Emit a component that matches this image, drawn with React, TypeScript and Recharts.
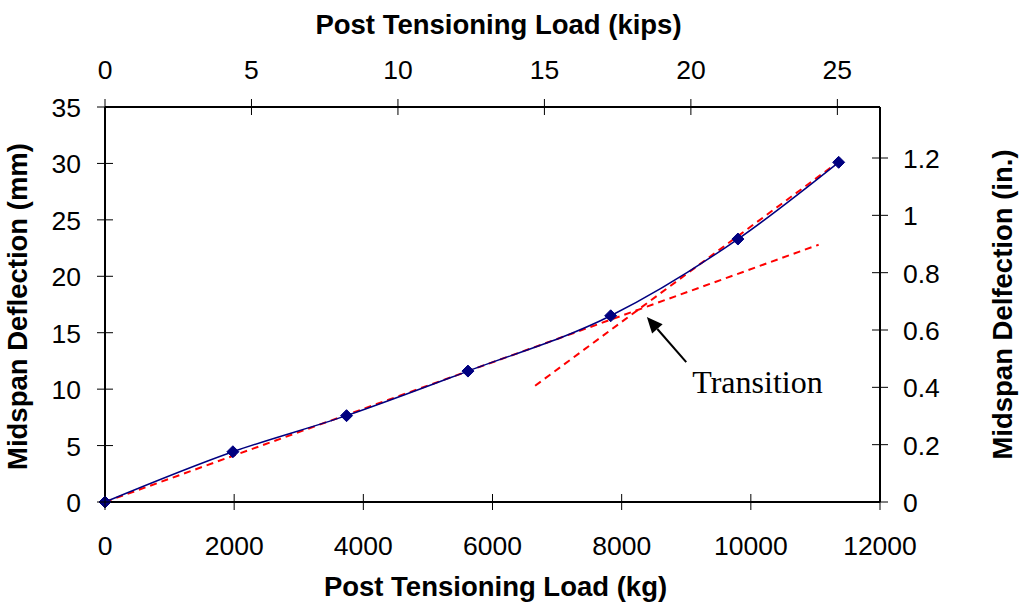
import { ComposedChart, Line, XAxis, YAxis, ReferenceLine } from 'recharts';

// measured midspan deflection vs post-tensioning load
const loadKg = [0, 1980, 3740, 5620, 7830, 9800, 11360];
const deflectionMm = [0, 4.45, 7.65, 11.6, 16.5, 23.3, 30.1];

// the two dashed trend lines
const trendLowKg = [0, 11050];
const trendLowMm = [0, 22.8];
const trendHighKg = [6660, 11300];
const trendHighMm = [10.3, 29.9];

// annotation arrow (tail -> head)
const arrowKg = [9000, 8390];
const arrowMm = [12.4, 16.4];

const kgTicks = [0, 2000, 4000, 6000, 8000, 10000, 12000];
const kipsTicks = [0, 5, 10, 15, 20, 25];
const mmTicks = [0, 5, 10, 15, 20, 25, 30, 35];
const inTicks = [0, 0.2, 0.4, 0.6, 0.8, 1, 1.2];

const KG_PER_KIP = 453.592;
const MM_PER_IN = 25.4;

const SANS = "'Liberation Sans', Arial, sans-serif";
const SERIF = "'Liberation Serif', 'Times New Roman', serif";
const TICK_FONT = 26.5;
const TITLE_FONT = 27.5;

const measured = loadKg.map((x, i) => ({ x, y: deflectionMm[i] }));
const trendLow = trendLowKg.map((x, i) => ({ x, y: trendLowMm[i] }));
const trendHigh = trendHighKg.map((x, i) => ({ x, y: trendHighMm[i] }));
// same points in imperial units, drawn invisibly so the top/right axes are bound to a series
const measuredImperial = loadKg.map((x, i) => ({ x: x / KG_PER_KIP, y: deflectionMm[i] / MM_PER_IN }));

const fmt = (v: number) => String(Number(v.toFixed(1)));

function makeTick(side: 'bottom' | 'top' | 'left' | 'right') {
  return (props: any) => {
    const { x, y, payload } = props;
    const label = fmt(payload.value);
    const t = { fontFamily: SANS, fontSize: TICK_FONT, fill: '#000' };
    if (side === 'bottom') {
      return (
        <g>
          <line x1={x} x2={x} y1={y - 8} y2={y + 8} stroke="#000" strokeWidth={1} />
          <text x={x} y={y + 53} textAnchor="middle" {...t}>{label}</text>
        </g>
      );
    }
    if (side === 'top') {
      return (
        <g>
          <line x1={x} x2={x} y1={y - 8} y2={y + 8} stroke="#000" strokeWidth={1} />
          <text x={x} y={y - 28} textAnchor="middle" {...t}>{label}</text>
        </g>
      );
    }
    if (side === 'left') {
      return (
        <g>
          <line x1={x - 8} x2={x + 8} y1={y} y2={y} stroke="#000" strokeWidth={1} />
          <text x={x - 24} y={y + 10} textAnchor="end" {...t}>{label}</text>
        </g>
      );
    }
    return (
      <g>
        <line x1={x - 8} x2={x + 8} y1={y} y2={y} stroke="#000" strokeWidth={1} />
        <text x={x + 23} y={y + 10} textAnchor="start" {...t}>{label}</text>
      </g>
    );
  };
}

const Diamond = (props: any) => {
  const { cx, cy, index } = props;
  if (cx == null || cy == null) return <g key={index} />;
  const r = 6;
  return (
    <path
      key={index}
      d={`M${cx},${cy - r}L${cx + r},${cy}L${cx},${cy + r}L${cx - r},${cy}Z`}
      fill="#000080"
      stroke="#000080"
    />
  );
};

const ArrowShape = (props: any) => {
  const { x1, y1, x2, y2 } = props;
  const dx = x2 - x1;
  const dy = y2 - y1;
  const len = Math.sqrt(dx * dx + dy * dy) || 1;
  const ux = dx / len;
  const uy = dy / len;
  const hl = 16;
  const hw = 7;
  const bx = x2 - ux * hl;
  const by = y2 - uy * hl;
  return (
    <g>
      <line x1={x1} y1={y1} x2={bx} y2={by} stroke="#000" strokeWidth={2} />
      <path
        d={`M${x2},${y2}L${bx - uy * hw},${by + ux * hw}L${bx + uy * hw},${by - ux * hw}Z`}
        fill="#000"
      />
      <text x={x1 + 6} y={y1 + 31} fontFamily={SERIF} fontSize={32} fill="#000">
        Transition
      </text>
    </g>
  );
};

const axisLine = { stroke: '#000', strokeWidth: 2 };

export default function App() {
  return (
    <div style={{ position: 'absolute', left: 0, top: 0, background: '#fff' }}>
      <ComposedChart width={1024} height={607} margin={{ top: 0, right: 0, bottom: 0, left: 0 }}>
        <XAxis
          xAxisId="kg"
          type="number"
          dataKey="x"
          orientation="bottom"
          domain={[0, 12000]}
          ticks={kgTicks}
          height={105}
          axisLine={axisLine}
          tickLine={false}
          tickSize={0}
          tickMargin={0}
          tick={makeTick('bottom')}
          label={{
            content: ({ viewBox }: any) => (
              <text
                x={viewBox.x + viewBox.width / 2 + 3}
                y={596}
                textAnchor="middle"
                fontFamily={SANS}
                fontWeight="bold"
                fontSize={TITLE_FONT}
              >
                Post Tensioning Load (kg)
              </text>
            ),
          }}
        />
        <XAxis
          xAxisId="kips"
          type="number"
          dataKey="x"
          orientation="top"
          domain={[0, 12000 / KG_PER_KIP]}
          ticks={kipsTicks}
          height={107}
          axisLine={axisLine}
          tickLine={false}
          tickSize={0}
          tickMargin={0}
          tick={makeTick('top')}
          allowDataOverflow
          label={{
            content: ({ viewBox }: any) => (
              <text
                x={viewBox.x + viewBox.width / 2 + 6}
                y={34}
                textAnchor="middle"
                fontFamily={SANS}
                fontWeight="bold"
                fontSize={TITLE_FONT}
              >
                Post Tensioning Load (kips)
              </text>
            ),
          }}
        />
        <YAxis
          yAxisId="mm"
          type="number"
          orientation="left"
          domain={[0, 35]}
          ticks={mmTicks}
          width={105}
          axisLine={axisLine}
          tickLine={false}
          tickSize={0}
          tickMargin={0}
          tick={makeTick('left')}
          label={{
            content: ({ viewBox }: any) => {
              const cy = viewBox.y + viewBox.height / 2 + 2;
              return (
                <text
                  x={27}
                  y={cy}
                  textAnchor="middle"
                  transform={`rotate(-90, 27, ${cy})`}
                  fontFamily={SANS}
                  fontWeight="bold"
                  fontSize={TITLE_FONT}
                >
                  Midspan Deflection (mm)
                </text>
              );
            },
          }}
        />
        <YAxis
          yAxisId="in"
          type="number"
          orientation="right"
          domain={[0, 35 / MM_PER_IN]}
          ticks={inTicks}
          width={144}
          axisLine={axisLine}
          tickLine={false}
          tickSize={0}
          tickMargin={0}
          tick={makeTick('right')}
          allowDataOverflow
          label={{
            content: ({ viewBox }: any) => {
              const cy = viewBox.y + viewBox.height / 2;
              return (
                <text
                  x={1012}
                  y={cy}
                  textAnchor="middle"
                  transform={`rotate(-90, 1012, ${cy})`}
                  fontFamily={SANS}
                  fontWeight="bold"
                  fontSize={TITLE_FONT}
                >
                  Midspan Delfection (in.)
                </text>
              );
            },
          }}
        />
        <Line
          xAxisId="kips"
          yAxisId="in"
          data={measuredImperial}
          dataKey="y"
          type="linear"
          stroke="none"
          dot={false}
          activeDot={false}
          isAnimationActive={false}
        />
        <Line
          xAxisId="kg"
          yAxisId="mm"
          data={trendLow}
          dataKey="y"
          type="linear"
          stroke="#ff0000"
          strokeWidth={2}
          strokeDasharray="7 5"
          dot={false}
          isAnimationActive={false}
        />
        <Line
          xAxisId="kg"
          yAxisId="mm"
          data={trendHigh}
          dataKey="y"
          type="linear"
          stroke="#ff0000"
          strokeWidth={2}
          strokeDasharray="7 5"
          dot={false}
          isAnimationActive={false}
        />
        <Line
          xAxisId="kg"
          yAxisId="mm"
          data={measured}
          dataKey="y"
          type="monotone"
          stroke="#000080"
          strokeWidth={1.5}
          dot={Diamond}
          isAnimationActive={false}
        />
        <ReferenceLine
          xAxisId="kg"
          yAxisId="mm"
          segment={[
            { x: arrowKg[0], y: arrowMm[0] },
            { x: arrowKg[1], y: arrowMm[1] },
          ]}
          shape={ArrowShape}
        />
      </ComposedChart>
    </div>
  );
}
